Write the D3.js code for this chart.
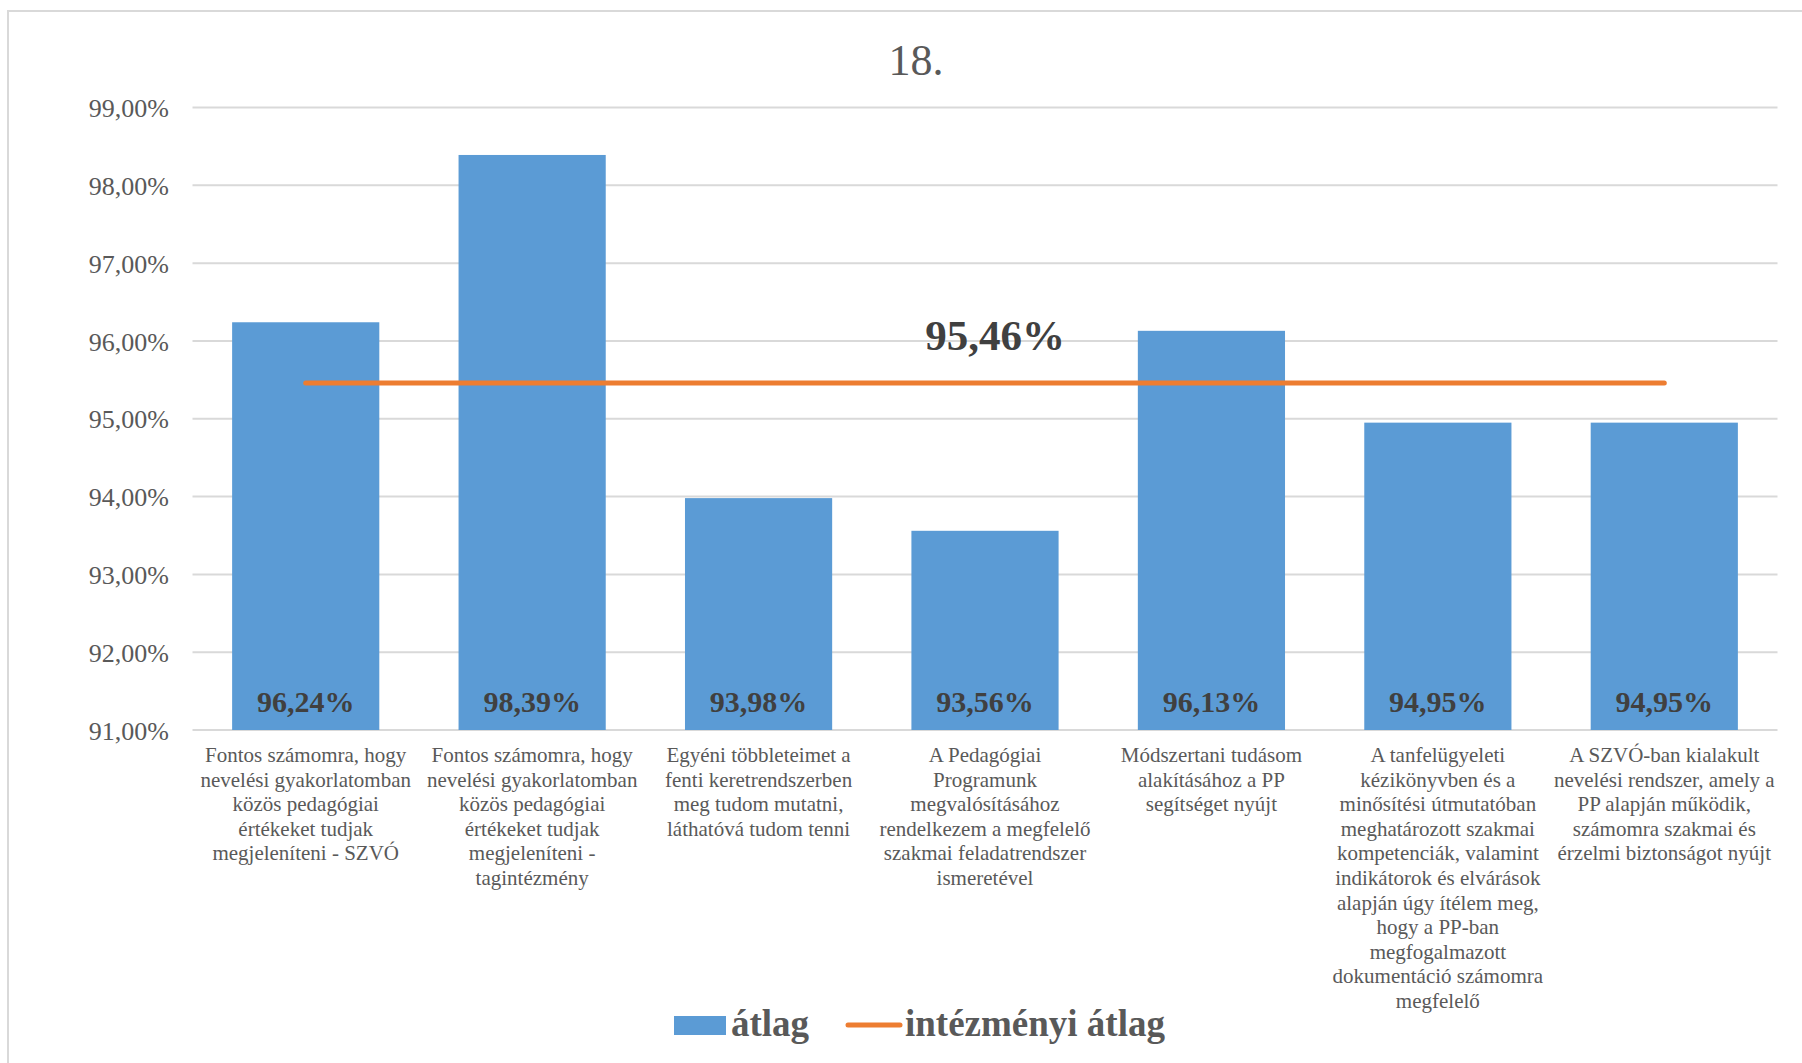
<!DOCTYPE html>
<html>
<head>
<meta charset="utf-8">
<script src="https://cdn.jsdelivr.net/npm/d3@7"></script>
<style>
  html, body { margin: 0; padding: 0; background: #fff; }
  svg { display: block; font-family: "Liberation Serif", "Times New Roman", serif; }
</style>
</head>
<body>
<svg id="chart" width="1802" height="1063"></svg>
<script>
const title = "18.";
const categories = [
  ["Fontos számomra, hogy", "nevelési gyakorlatomban", "közös pedagógiai", "értékeket tudjak", "megjeleníteni - SZVÓ"],
  ["Fontos számomra, hogy", "nevelési gyakorlatomban", "közös pedagógiai", "értékeket tudjak", "megjeleníteni -", "tagintézmény"],
  ["Egyéni többleteimet a", "fenti keretrendszerben", "meg tudom mutatni,", "láthatóvá tudom tenni"],
  ["A Pedagógiai", "Programunk", "megvalósításához", "rendelkezem a megfelelő", "szakmai feladatrendszer", "ismeretével"],
  ["Módszertani tudásom", "alakításához a PP", "segítséget nyújt"],
  ["A tanfelügyeleti", "kézikönyvben és a", "minősítési útmutatóban", "meghatározott szakmai", "kompetenciák, valamint", "indikátorok és elvárások", "alapján úgy ítélem meg,", "hogy a PP-ban", "megfogalmazott", "dokumentáció számomra", "megfelelő"],
  ["A SZVÓ-ban kialakult", "nevelési rendszer, amely a", "PP alapján működik,", "számomra szakmai és", "érzelmi biztonságot nyújt"]
];
const atlag = [96.24, 98.39, 93.98, 93.56, 96.13, 94.95, 94.95];
const intezmenyiAtlag = [95.46, 95.46, 95.46, 95.46, 95.46, 95.46, 95.46];
const yTicks = [91, 92, 93, 94, 95, 96, 97, 98, 99];
const seriesNames = ["átlag", "intézményi átlag"];

const fmt = v => v.toFixed(2).replace(".", ",") + "%";

const svg = d3.select("#chart");

// chart border
svg.append("rect")
  .attr("x", 8).attr("y", 11)
  .attr("width", 1820).attr("height", 1080)
  .attr("fill", "none").attr("stroke", "#d9d9d9").attr("stroke-width", 2);

const idx = d3.range(categories.length);
const x = d3.scaleBand().domain(idx).range([192.5, 1777.5]).paddingInner(0.35).paddingOuter(0.175);
const y = d3.scaleLinear().domain([91, 99]).range([730, 107.5]);

// title
svg.append("text")
  .attr("x", 916).attr("y", 75)
  .attr("text-anchor", "middle")
  .attr("font-size", 44)
  .attr("fill", "#595959")
  .text(title);

// gridlines
svg.append("g").selectAll("line").data(yTicks).join("line")
  .attr("x1", 192.5).attr("x2", 1777.5)
  .attr("y1", d => y(d)).attr("y2", d => y(d))
  .attr("stroke", "#d9d9d9").attr("stroke-width", 2);

// y axis labels
const yAxis = d3.axisLeft(y).tickValues(yTicks).tickFormat(fmt).tickSize(0).tickPadding(0);
const yg = svg.append("g").attr("transform", "translate(169,0)").call(yAxis);
yg.select(".domain").remove();
yg.selectAll("text")
  .attr("font-family", "Liberation Serif, Times New Roman, serif")
  .attr("font-size", 26)
  .attr("fill", "#595959")
  .attr("dy", "0.35em");

// bars
svg.append("g").selectAll("rect").data(atlag).join("rect")
  .attr("x", (d, i) => x(i))
  .attr("width", x.bandwidth())
  .attr("y", d => y(d))
  .attr("height", d => y(91) - y(d))
  .attr("fill", "#5b9bd5");

// bar labels
svg.append("g").selectAll("text").data(atlag).join("text")
  .attr("x", (d, i) => x(i) + x.bandwidth() / 2)
  .attr("y", 712)
  .attr("text-anchor", "middle")
  .attr("font-size", 30)
  .attr("font-weight", "bold")
  .attr("fill", "#404040")
  .text(d => fmt(d));

// line
const line = d3.line()
  .x((d, i) => x(i) + x.bandwidth() / 2)
  .y(d => y(d));
svg.append("path")
  .datum(intezmenyiAtlag)
  .attr("d", line)
  .attr("fill", "none")
  .attr("stroke", "#ed7d31")
  .attr("stroke-width", 5)
  .attr("stroke-linecap", "round");

// line label
svg.append("text")
  .attr("x", x(3) + x.bandwidth() / 2 + 10)
  .attr("y", 350)
  .attr("text-anchor", "middle")
  .attr("font-size", 43)
  .attr("font-weight", "bold")
  .attr("fill", "#404040")
  .text(fmt(intezmenyiAtlag[3]));

// category labels
const cg = svg.append("g");
categories.forEach((lines, i) => {
  const t = cg.append("text")
    .attr("text-anchor", "middle")
    .attr("font-size", 21)
    .attr("fill", "#595959");
  lines.forEach((ln, j) => {
    t.append("tspan")
      .attr("x", x(i) + x.bandwidth() / 2)
      .attr("y", 762 + j * 24.6)
      .text(ln);
  });
});

// legend
const lg = svg.append("g");
lg.append("rect").attr("x", 674).attr("y", 1016).attr("width", 52).attr("height", 19).attr("fill", "#5b9bd5");
lg.append("text").attr("x", 731).attr("y", 1036)
  .attr("font-size", 37).attr("font-weight", "bold").attr("fill", "#595959")
  .text(seriesNames[0]);
lg.append("line").attr("x1", 848).attr("x2", 900).attr("y1", 1025).attr("y2", 1025)
  .attr("stroke", "#ed7d31").attr("stroke-width", 5).attr("stroke-linecap", "round");
lg.append("text").attr("x", 905).attr("y", 1036)
  .attr("font-size", 37).attr("font-weight", "bold").attr("fill", "#595959")
  .text(seriesNames[1]);
</script>
</body>
</html>
